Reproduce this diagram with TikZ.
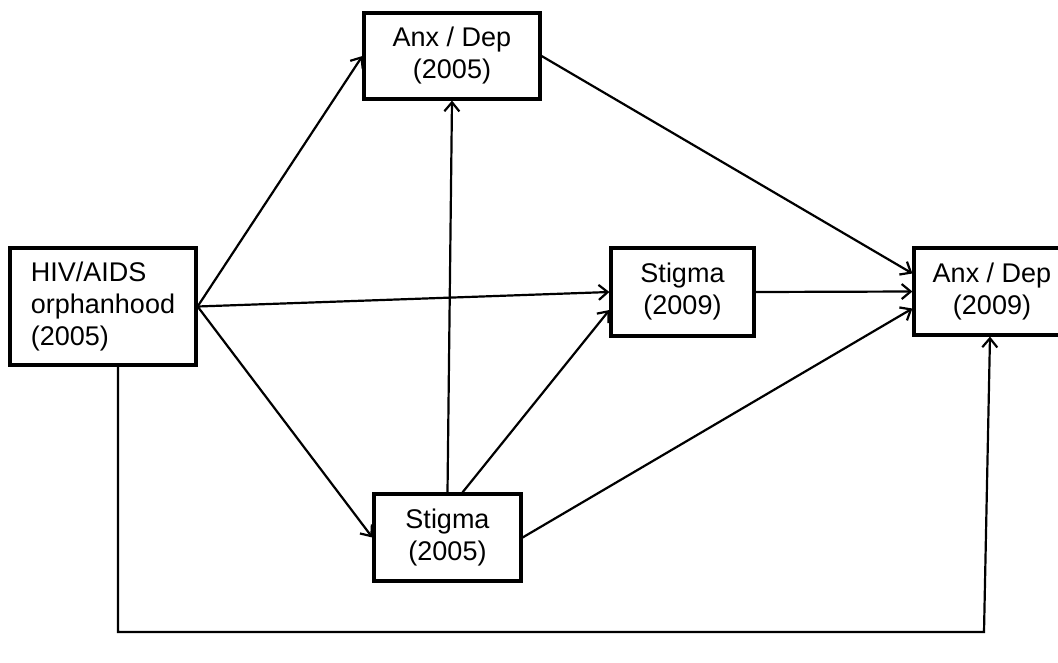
\documentclass[tikz,border=0pt]{standalone}
\usepackage{fontspec}
\setmainfont{Liberation Sans}
\usetikzlibrary{arrows.meta}

\tikzset{
  var/.style={draw, line width=3.2pt, inner sep=0pt, align=center,
    font=\fontsize{27}{32}\selectfont},
  link/.style={line width=2.2pt, -{Straight Barb[length=9pt,width=15pt,line width=2.2pt]}}
}

\begin{document}
\begin{tikzpicture}[x=1pt,y=-1pt]

    \useasboundingbox (0,0) rectangle (1058,662);

    % variables
    \node (hiv) at (103,306.5) [var, align=left, minimum width=186pt, minimum height=117pt] {HIV/AIDS\\orphanhood\\(2005)};
    \node (anxA) at (452,56) [var, minimum width=176pt, minimum height=86pt] {Anx / Dep\\(2005)};
    \node (stigA) at (447.5,537.5) [var, minimum width=147pt, minimum height=87pt] {Stigma\\(2005)};
    \node (stigB) at (682.5,292) [var, minimum width=143pt, minimum height=88pt] {Stigma\\(2009)};
    \node (anxB) at (992,291.5) [var, minimum width=156pt, minimum height=87pt] {Anx / Dep\\(2009)};

    % paths
    \draw [link] (hiv.east) -- (anxA.west);
    \draw [link] (hiv.east) -- (stigB.west);
    \draw [link] (hiv.east) -- (stigA.west);
    \draw [link] (anxA.east) -- ([yshift=18pt]anxB.west);
    \draw [link] (stigB.east) -- (anxB.west);
    \draw [link] ([xshift=15pt]stigA.north) -- ([yshift=-18pt]stigB.west);
    \draw [link] (stigA.east) -- ([yshift=-17pt]anxB.west);
    \draw [link] (stigA.north) -- (anxA.south);

    \coordinate (bl) at (118,632);
    \coordinate (br) at (984,632);
    \draw [link] ([xshift=15pt]hiv.south) -- (bl) -- (br) -- ([xshift=-2pt]anxB.south);

\end{tikzpicture}
\end{document}
